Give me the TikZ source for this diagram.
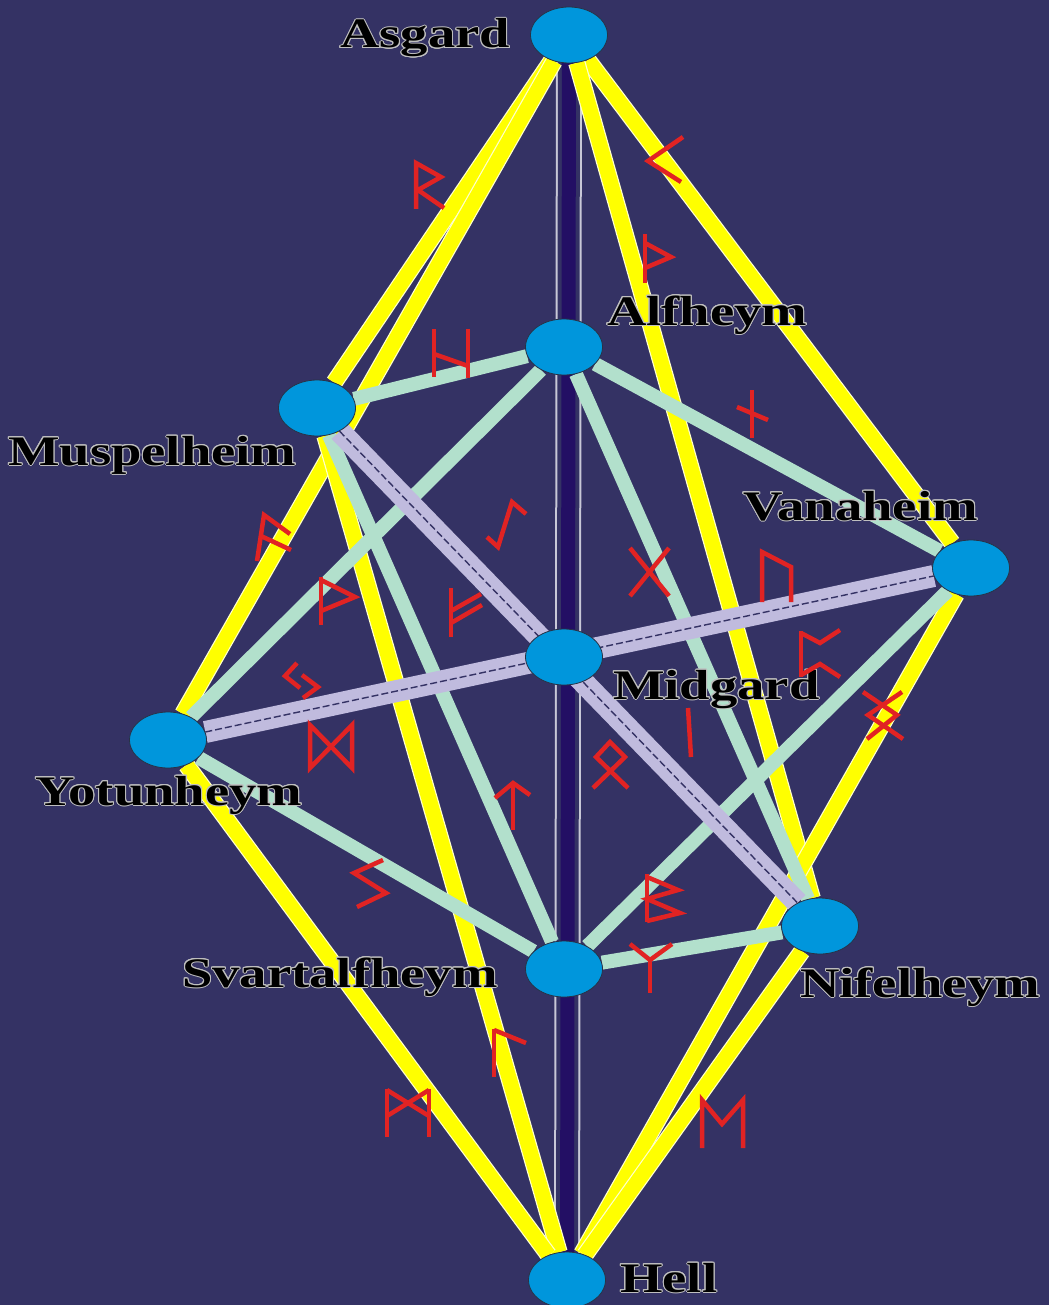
\documentclass[tikz,border=0pt]{standalone}
\usepackage{fontspec}
\usepackage{contour}
\usetikzlibrary{shapes.geometric}
\newfontfamily\lblfont[FakeStretch=1.3]{Liberation Serif}
\definecolor{bgc}{RGB}{52,50,100}
\definecolor{nodeblue}{RGB}{0,150,220}
\definecolor{outl}{RGB}{40,50,70}
\definecolor{mintc}{RGB}{178,224,204}
\definecolor{lavc}{RGB}{192,187,222}
\definecolor{navyc}{RGB}{35,15,100}
\definecolor{greyl}{RGB}{200,200,215}
\definecolor{runered}{RGB}{225,35,35}
\definecolor{yelc}{RGB}{255,255,0}
\contourlength{1pt}
\pgfdeclarelayer{edgelayer}
\pgfsetlayers{edgelayer,main}
\begin{document}
\begin{tikzpicture}[x=1pt,y=-1pt,
  world/.style={ellipse, fill=nodeblue, draw=outl, line width=0.8pt,
    minimum width=77pt, minimum height=56pt, inner sep=0pt},
  lbl/.style={font=\lblfont\bfseries\fontsize{42}{42}\selectfont,
    text=black, inner sep=0pt, anchor=base west},
  yel/.style={draw=white!80!yelc, double=yelc, double distance=15pt, line width=1.2pt},
  mint/.style={draw=mintc, line width=14pt},
  lav/.style={draw=lavc, line width=22pt,
    postaction={draw=bgc, line width=1.4pt, dash pattern=on 7pt off 3pt}},
  vert/.style={draw=greyl, double=bgc, double distance=22pt, line width=2pt,
    postaction={draw=navyc, line width=14pt}},
  rune/.style={draw=runered, line width=4.5pt, line join=miter, line cap=butt}
]
\useasboundingbox (0,0) rectangle (1049,1305);

% worlds
\node[world] (As) at (569,35) {};
\node[world] (Al) at (564,347) {};
\node[world] (Mu) at (317,408) {};
\node[world] (Va) at (971,568) {};
\node[world] (Mi) at (564,657) {};
\node[world] (Yo) at (168,740) {};
\node[world] (Sv) at (564,969) {};
\node[world] (Ni) at (820,926) {};
\node[world] (He) at (567,1280) {};

\begin{pgfonlayer}{edgelayer}
  \fill[bgc] (0,0) rectangle (1049,1305);
  % axis
  \draw[vert] (As.center) -- (He.center);
  % yellow
  \draw[yel] (As) -- (Mu);
  \draw[yel] (As) -- (Yo);
  \draw[yel] (As) -- (Va);
  \draw[yel] (As) -- (Ni);
  \draw[yel] (Mu) -- (He);
  \draw[yel] (Yo) -- (He);
  \draw[yel] (Va) -- (He);
  \draw[yel] (Ni) -- (He);
  % mint
  \draw[mint] (Al) -- (Mu);
  \draw[mint] (Al) -- (Va);
  \draw[mint] (Al) -- (Yo);
  \draw[mint] (Al) -- (Ni);
  \draw[mint] (Mu) -- (Sv);
  \draw[mint] (Yo) -- (Sv);
  \draw[mint] (Va) -- (Sv);
  \draw[mint] (Sv) -- (Ni);
  % lavender
  \draw[lav] (Yo) -- (Va);
  \draw[lav] (Mu) -- (Ni);
\end{pgfonlayer}

% labels
\node[lbl] (lAs) at (340,48) {\contour{lightgray}{Asgard}};
\node[lbl] (lAl) at (607,325) {\contour{lightgray}{Alfheym}};
\node[lbl] (lMu) at (8,465) {\contour{lightgray}{Muspelheim}};
\node[lbl] (lVa) at (743,520) {\contour{lightgray}{Vanaheim}};
\node[lbl] (lMi) at (613,699) {\contour{lightgray}{Midgard}};
\node[lbl] (lYo) at (35,805) {\contour{lightgray}{Yotunheym}};
\node[lbl] (lSv) at (182,987) {\contour{lightgray}{Svartalfheym}};
\node[lbl] (lNi) at (800,997) {\contour{lightgray}{Nifelheym}};
\node[lbl] (lHe) at (620,1292) {\contour{lightgray}{Hell}};

% runes
% raido
\draw[rune] (416,209) -- (416,163) -- (441,177) -- (418,190) -- (444,208);
% kaunan
\draw[rune] (683,137) -- (648,161) -- (681,182);
% thurisaz
\draw[rune] (645,234) -- (645,283);
\draw[rune] (645,243) -- (671,257) -- (645,268);
% hagalaz
\draw[rune] (434,329) -- (434,377);
\draw[rune] (468,329) -- (468,378);
\draw[rune] (434,354) -- (468,366);
% naudiz
\draw[rune] (752,390) -- (752,438);
\draw[rune] (737,407) -- (768,420);
% gebo
\draw[rune] (630,548) -- (669,596);
\draw[rune] (669,548) -- (630,596);
% eihwaz
\draw[rune] (487,537) -- (498,547) -- (512,502) -- (526,514);
% fehu
\draw[rune] (451,588) -- (451,637);
\draw[rune] (451,611) -- (481,594);
\draw[rune] (451,623) -- (482,605);
% ansuz
\draw[rune] (257,561) -- (264,515) -- (290,534);
\draw[rune] (261,536) -- (291,550);
% wunjo
\draw[rune] (321,577) -- (321,625);
\draw[rune] (321,580) -- (355,597) -- (321,611);
% jera
\draw[rune] (297,663) -- (285,676) -- (300,688);
\draw[rune] (302,675) -- (318,687) -- (303,698);
% dagaz
\draw[rune] (310,768) -- (310,725) -- (352,768) -- (352,725) -- cycle;
% tiwaz
\draw[rune] (513,783) -- (513,830);
\draw[rune] (495,798) -- (513,783) -- (530,795);
% sowilo
\draw[rune] (383,860) -- (354,873) -- (386,893) -- (357,907);
% laguz
\draw[rune] (494,1029) -- (494,1077);
\draw[rune] (494,1030) -- (526,1043);
% mannaz
\draw[rune] (387,1089) -- (387,1137);
\draw[rune] (429,1089) -- (429,1137);
\draw[rune] (387,1090) -- (429,1116);
\draw[rune] (429,1090) -- (387,1116);
% ehwaz
\draw[rune] (702,1148) -- (702,1100) -- (722,1124) -- (743,1100) -- (743,1148);
% algiz
\draw[rune] (650,993) -- (650,959);
\draw[rune] (630,944) -- (650,960) -- (672,944);
% berkanan
\draw[rune] (647,874) -- (647,922);
\draw[rune] (647,877) -- (678,890) -- (647,899) -- (680,913) -- (647,921);
% othala
\draw[rune] (593,788) -- (625,757) -- (610,742) -- (596,757) -- (628,788);
% isa
\draw[rune] (688,708) -- (691,757);
% perthro
\draw[rune] (801,631) -- (801,677);
\draw[rune] (801,633) -- (820,643) -- (840,630);
\draw[rune] (801,675) -- (820,664) -- (840,677);
% uruz
\draw[rune] (762,602) -- (762,552) -- (791,567) -- (791,602);
% ingwaz
\draw[rune] (863,692) -- (897,715) -- (867,739);
\draw[rune] (902,692) -- (868,715) -- (903,739);
\end{tikzpicture}
\end{document}
